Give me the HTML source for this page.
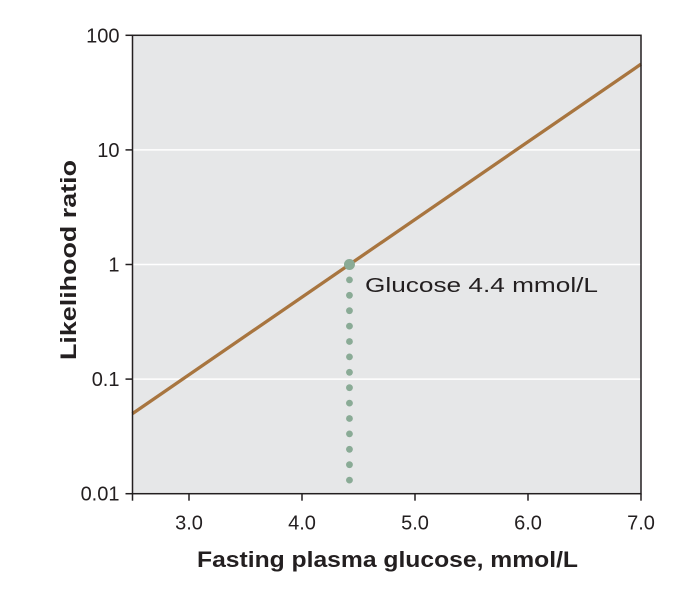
<!DOCTYPE html>
<html><head><meta charset="utf-8"><style>
html,body{margin:0;padding:0;background:#fff;}
svg{display:block;font-family:"Liberation Sans",sans-serif;}
</style></head><body>
<svg id="chart" width="700" height="611"></svg>
<script>
const xTicks=[3.0,4.0,5.0,6.0,7.0];
const xTickLabels=["3.0","4.0","5.0","6.0","7.0"];
const yTicks=[0.01,0.1,1,10,100];
const yTickLabels=["0.01","0.1","1","10","100"];
const lineX=[2.5,7.0];
const lineY=[0.05,56];
const markerX=[4.42];
const markerY=[1];
const dotMinY=[0.0129];

const NS="http://www.w3.org/2000/svg";
const svg=document.getElementById('chart');
const L=132.5,R=641,T=35.3,B=493.7;
const xMin=2.5,xMax=7.0;
function sx(v){return L+(v-xMin)/(xMax-xMin)*(R-L);}
function sy(v){return B-(Math.log10(v)+2)/4*(B-T);}
function mk(tag,attrs){const e=document.createElementNS(NS,tag);for(const k in attrs)e.setAttribute(k,attrs[k]);svg.appendChild(e);return e;}

let e=mk('rect',{x:L,y:T,width:R-L,height:B-T,fill:'#e6e7e8'});



yTicks.forEach((v,i)=>{
  const y=sy(v);
  if(i>0&&i<yTicks.length-1){
    const g=mk('line',{x1:L,x2:R,y1:y,y2:y,stroke:'#fff','stroke-width':1.5});
    
    
  }
  const t=mk('line',{x1:L-7,x2:L,y1:y,y2:y,stroke:'#231f20','stroke-width':1.5});
  
  
  const tx=mk('text',{x:L-13,y:y+7,'text-anchor':'end','font-size':20,fill:'#231f20'});
  tx.textContent=yTickLabels[i];
  
  
});
xTicks.forEach((v,i)=>{
  const x=sx(v);
  const t=mk('line',{x1:x,x2:x,y1:B,y2:B+7,stroke:'#231f20','stroke-width':1.5});
  
  
  const tx=mk('text',{x:x,y:B+36,'text-anchor':'middle','font-size':20,fill:'#231f20'});
  tx.textContent=xTickLabels[i];
  
  
});
let lt=mk('line',{x1:L,x2:L,y1:B,y2:B+7,stroke:'#231f20','stroke-width':1.5});



const ln=mk('line',{x1:sx(lineX[0]),y1:sy(lineY[0]),x2:sx(lineX[1]),y2:sy(lineY[1]),stroke:'#a8753f','stroke-width':3.3});



const mx=sx(markerX[0]),my=sy(markerY[0]),dEnd=sy(dotMinY[0]);
for(let y=my+15.4;y<=dEnd+1;y+=15.4){
  const d=mk('circle',{cx:mx,cy:y,r:3.4,fill:'#8aab96'});
  
  
}
const m=mk('circle',{cx:mx,cy:my,r:5.5,fill:'#8aab96'});


const ml=mk('text',{x:365,y:292,'font-size':20,fill:'#231f20',textLength:233,lengthAdjust:'spacingAndGlyphs'});
ml.textContent='Glucose 4.4 mmol/L';



const fr=mk('rect',{x:L,y:T,width:R-L,height:B-T,fill:'none',stroke:'#231f20','stroke-width':1.5});



const xt=mk('text',{x:197,y:567,'font-size':22,'font-weight':'bold',fill:'#231f20',textLength:381,lengthAdjust:'spacingAndGlyphs'});
xt.textContent='Fasting plasma glucose, mmol/L';


const yt=mk('text',{x:0,y:0,'font-size':22,'font-weight':'bold',fill:'#231f20',textLength:200,lengthAdjust:'spacingAndGlyphs',transform:'translate(76,360) rotate(-90)'});
yt.textContent='Likelihood ratio';


</script>
</body></html>
